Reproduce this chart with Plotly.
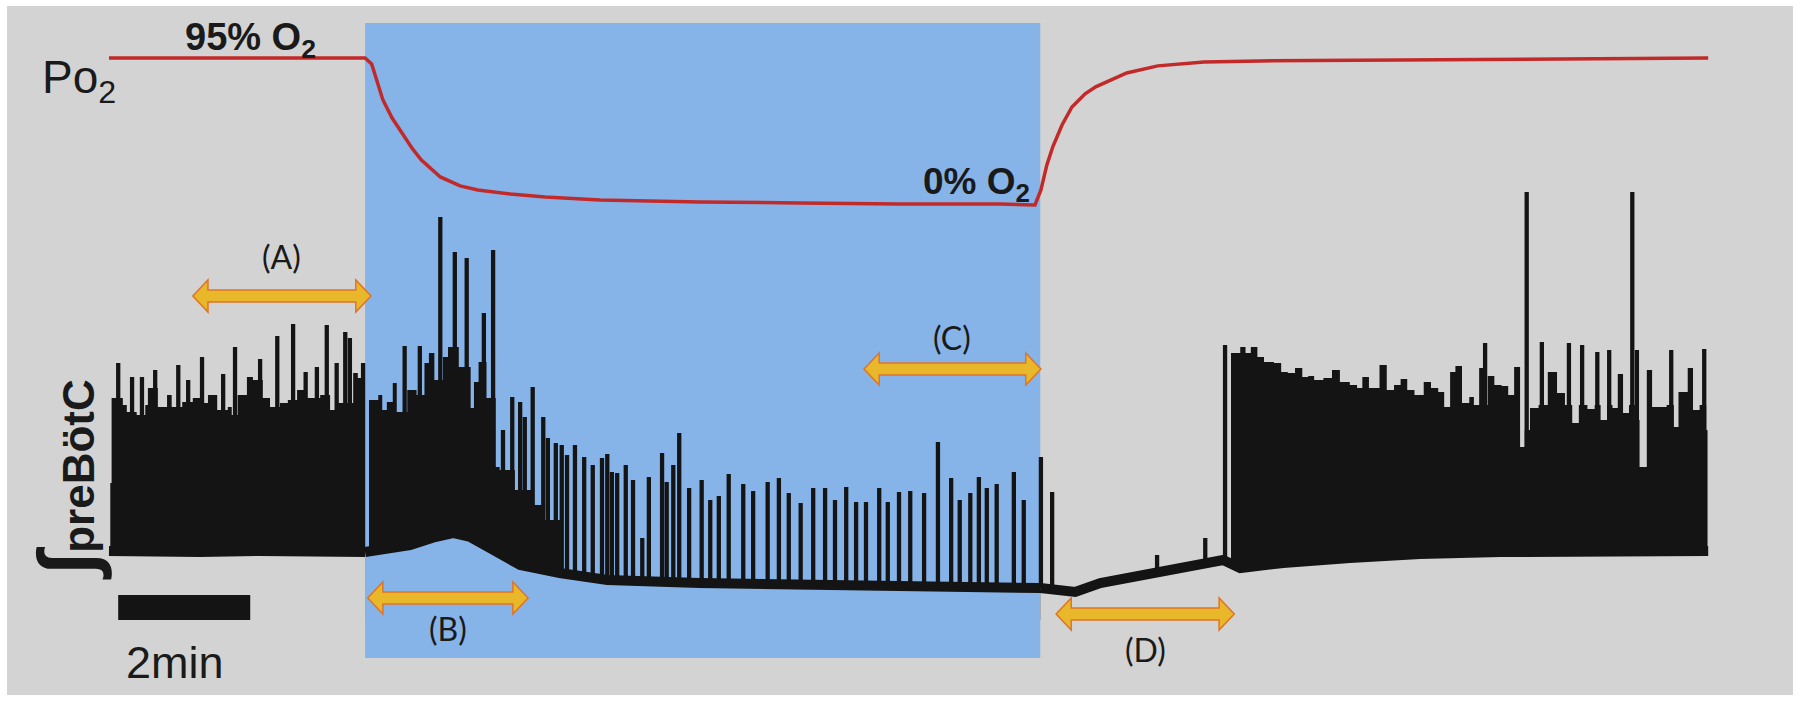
import numpy as np
import plotly.graph_objects as go

# time in minutes from the start of the recording, amplitudes in arbitrary units
HYPOXIA = [3.88, 14.11]

# Po2 trace (% O2)
PO2_T = [0, 2.14, 3.88, 3.98, 4.15, 4.29, 4.44, 4.59, 4.73, 5.02,
         5.32, 5.59, 6.08, 6.61, 7.44, 8.95, 10.47, 11.98, 13.50, 14.03,
         14.12, 14.21, 14.30, 14.44, 14.59, 14.79, 14.95, 15.17, 15.42, 15.89,
         16.59, 17.44, 19.56, 21.83, 24.23]
PO2_V = [95, 95, 95, 91.1, 67.9, 56.2, 46.5, 36.8, 29.1, 18.1,
         12.3, 9.7, 7.1, 5.2, 3.2, 1.9, 1.3, 0.6, 0.6, 0.0,
         9.7, 25.9, 37.5, 51.7, 63.3, 71.8, 76.3, 80.8, 85.3, 89.9,
         92.4, 93.1, 93.7, 94.4, 95.0]

# baseline of the integrated preBotC signal
BASE_T = [0.00, 0.47, 1.38, 2.29, 3.20, 3.88, 4.11, 4.56, 4.94, 5.21,
          5.47, 5.70, 5.88, 6.23, 6.83, 7.55, 8.95, 10.47, 11.98, 13.50,
          14.11, 14.36, 14.64, 15.02, 15.77, 16.53, 16.88, 17.14, 17.79, 18.80,
          19.86, 21.08, 22.59, 24.23]
BASE_V = [69, 68, 68, 69, 68, 68, 70, 75, 83, 87,
          83, 75, 67, 55, 47, 40, 37, 35, 34, 33,
          32, 30, 28, 37, 47, 55, 60, 52, 57, 62,
          66, 68, 69, 69]

# top of the dense burst block (step envelope)
ENV_T = [0.02, 0.04, 0.21, 0.27, 0.42, 0.55, 0.59, 0.74, 0.88, 0.95,
         1.11, 1.27, 1.38, 1.50, 1.64, 1.80, 1.86, 1.95, 2.09, 2.18,
         2.33, 2.44, 2.59, 2.71, 2.85, 3.00, 3.20, 3.35, 3.47, 3.70,
         3.77, 3.86,
         3.94, 4.08, 4.14, 4.21, 4.30, 4.36, 4.52, 4.66, 4.78, 4.86,
         4.93, 5.06, 5.14, 5.30, 5.48, 5.53, 5.60, 5.72, 5.86,
         5.92, 6.15, 6.40, 6.60, 6.85,
         17.00, 17.14, 17.22, 17.30, 17.40, 17.50, 17.65, 17.76, 17.86, 17.97,
         18.08, 18.17, 18.26, 18.40, 18.53, 18.65, 18.80, 18.91, 18.99, 19.09,
         19.25, 19.36, 19.47, 19.57, 19.67, 19.78, 19.92, 20.03, 20.14, 20.23,
         20.32, 20.40, 20.50, 20.61, 20.68, 20.76, 20.82, 20.89, 20.99, 21.10,
         21.20, 21.29, 21.38, 21.45, 21.53, 21.66, 21.80, 21.94, 22.06, 22.17,
         22.27, 22.40, 22.51, 22.60, 22.70, 22.78, 22.86, 22.94, 23.03, 23.12,
         23.19, 23.30, 23.38, 23.45, 23.60, 23.71, 23.78, 23.92, 24.00, 24.10,
         24.20, 24.22]
ENV_V = [137, 222, 215, 208, 205, 215, 232, 213, 225, 213,
         218, 222, 217, 225, 210, 213, 205, 225, 243, 240,
         222, 213, 217, 220, 230, 222, 225, 210, 217, 247,
         242, 0,
         220, 225, 210, 218, 237, 208, 230, 225, 257, 267,
         240, 263, 273, 253, 212, 238, 258, 222, 153,
         150, 130, 115, 100, 0,
         267, 273, 267, 273, 263, 258, 257, 248, 247, 252,
         243, 244, 240, 242, 250, 238, 235, 232, 243, 232,
         255, 230, 235, 241, 230, 225, 238, 232, 228, 213,
         248, 254, 217, 223, 215, 252, 215, 244, 235, 234,
         225, 253, 173, 190, 212, 215, 248, 227, 215, 197,
         215, 211, 215, 200, 215, 212, 246, 207, 215, 200,
         153, 250, 213, 213, 215, 193, 228, 252, 210, 215,
         190, 0]

# individual burst peaks
CONTROL_T = [0.14, 0.35, 0.50, 0.70, 1.05, 1.20, 1.41, 1.73, 1.91, 2.14,
             2.29, 2.55, 2.79, 2.98, 3.15, 3.30, 3.45, 3.58, 3.65, 3.85]
CONTROL_PK = [257, 243, 243, 250, 255, 240, 263, 246, 273, 243,
              261, 284, 296, 248, 253, 295, 257, 288, 282, 257]

AUGMENT_T = [4.48, 4.71, 4.88, 5.02, 5.17, 5.24, 5.42, 5.68, 5.82]
AUGMENT_PK = [274, 274, 267, 403, 273, 368, 362, 307, 370]

DEPRESS_T = [5.97, 6.11, 6.23, 6.30, 6.42, 6.58, 6.65, 6.77, 6.86, 6.94,
             7.06, 7.20, 7.33, 7.47, 7.55, 7.62, 7.70, 7.83, 7.94, 8.08,
             8.18, 8.38, 8.45, 8.55, 8.64, 8.79, 8.98, 9.11, 9.24, 9.39,
             9.61, 9.76, 9.98, 10.15, 10.30, 10.48, 10.67, 10.85, 11.00, 11.17,
             11.32, 11.47, 11.67, 11.80, 11.97, 12.14, 12.35, 12.56, 12.76, 12.89,
             13.05, 13.18, 13.30, 13.45, 13.71, 13.86, 14.12, 14.29]
DEPRESS_PK = [190, 223, 218, 203, 233, 203, 182, 177, 175, 165,
              175, 163, 155, 162, 166, 148, 147, 155, 140, 82,
              143, 167, 138, 155, 187, 132, 140, 120, 124, 146,
              136, 129, 138, 142, 127, 117, 132, 132, 120, 133,
              118, 118, 132, 118, 128, 129, 127, 178, 142, 120,
              127, 143, 132, 136, 148, 120, 163, 128]

RECOVER_T = [15.88, 16.61, 16.91, 20.85, 21.48, 21.71, 22.12, 22.32, 22.55, 22.73,
             23.08, 23.15, 23.67, 24.17]
RECOVER_PK = [65, 82, 275, 277, 428, 278, 277, 275, 268, 270,
              428, 270, 270, 271]

# epoch markers
ARROW_LABELS = ["(A)", "(B)", "(C)", "(D)"]
ARROW_FROM = [1.27, 3.92, 11.44, 14.35]
ARROW_TO = [3.97, 6.35, 14.12, 17.05]
ARROW_LEVEL = [324, 22, 251, 6]
LABEL_LEVEL = [364, -8, 283, -29]

GRAY = "#d3d3d3"
BLUE = "#86b4e8"
BLACK = "#141414"
RED = "#c22a2a"

spike_t = CONTROL_T + AUGMENT_T + DEPRESS_T + RECOVER_T
spike_v = CONTROL_PK + AUGMENT_PK + DEPRESS_PK + RECOVER_PK

fig = go.Figure()

fig.add_trace(go.Bar(x=spike_t, y=spike_v, base=0, width=0.065,
                     marker=dict(color=BLACK, line=dict(width=0)), hoverinfo="skip"))

fig.add_trace(go.Scatter(x=ENV_T, y=ENV_V, mode="lines",
                         line=dict(color=BLACK, width=0, shape="hv"),
                         fill="tozeroy", fillcolor=BLACK, hoverinfo="skip"))

# everything under the baseline is painted back with the background colour
bt = np.array(BASE_T)
bv = np.array(BASE_V)
segments = [(bt <= HYPOXIA[0], GRAY),
            ((bt >= HYPOXIA[0]) & (bt <= HYPOXIA[1]), BLUE),
            (bt >= HYPOXIA[1], GRAY)]
for sel, col in segments:
    fig.add_trace(go.Scatter(x=bt[sel], y=bv[sel], mode="lines",
                             line=dict(color=BLACK, width=10),
                             fill="tozeroy", fillcolor=col, hoverinfo="skip"))

fig.add_trace(go.Scatter(x=PO2_T, y=PO2_V, yaxis="y2", mode="lines",
                         line=dict(color=RED, width=3.5), hoverinfo="skip"))

shapes = [
    dict(type="rect", xref="x", yref="y", x0=HYPOXIA[0], x1=HYPOXIA[1], y0=-38, y1=597,
         fillcolor=BLUE, line=dict(width=0), layer="below"),
    dict(type="rect", xref="x", yref="y", x0=0.14, x1=2.14, y0=0, y1=25,
         fillcolor=BLACK, line=dict(width=0), layer="above"),
]

hl, sh, hh = 0.23, 6, 16
annotations = []
for lab, a, b, lv, tl in zip(ARROW_LABELS, ARROW_FROM, ARROW_TO, ARROW_LEVEL, LABEL_LEVEL):
    path = (f"M {a},{lv} L {a+hl},{lv+hh} L {a+hl},{lv+sh} L {b-hl},{lv+sh} "
            f"L {b-hl},{lv+hh} L {b},{lv} L {b-hl},{lv-hh} L {b-hl},{lv-sh} "
            f"L {a+hl},{lv-sh} L {a+hl},{lv-hh} Z")
    shapes.append(dict(type="path", xref="x", yref="y", path=path,
                       fillcolor="#e8b82a", line=dict(color="#e07428", width=1.5),
                       layer="above"))
    annotations.append(dict(text=lab, x=(a + b) / 2, y=tl, xref="x", yref="y",
                            showarrow=False, font=dict(family="Lato", size=32, color="#1a1a1a")))

txt = dict(family="Liberation Sans", color="#1a1a1a")
annotations += [
    dict(text="Po<sub>2</sub>", x=-1.045, y=540, xanchor="left", font=dict(size=46, **txt)),
    dict(text="<b>95% O<sub>2</sub></b>", x=2.14, y=580, font=dict(size=38, **txt)),
    dict(text="<b>0% O<sub>2</sub></b>", x=13.14, y=436, font=dict(size=37, **txt)),
    dict(text="<b><span style='font-size:80px'>∫</span>preBötC</b>", x=-0.64, y=140,
         textangle=-90, font=dict(size=44, **txt)),
    dict(text="2min", x=1.0, y=-42, font=dict(size=45, **txt)),
]
for an in annotations:
    an.setdefault("xref", "x")
    an.setdefault("yref", "y")
    an.setdefault("showarrow", False)

fig.update_layout(
    width=1800, height=703,
    margin=dict(l=7, r=7, t=6, b=8),
    paper_bgcolor="white", plot_bgcolor=GRAY,
    showlegend=False, barmode="overlay",
    xaxis=dict(range=[-1.545, 25.515], visible=False, fixedrange=True),
    yaxis=dict(range=[-75, 614], visible=False, fixedrange=True),
    yaxis2=dict(range=[-316.8, 128.6], overlaying="y", visible=False, fixedrange=True),
    shapes=shapes, annotations=annotations,
)

fig.write_html("out.html", config={"displayModeBar": False},
               post_script="document.body.style.margin='0';")
